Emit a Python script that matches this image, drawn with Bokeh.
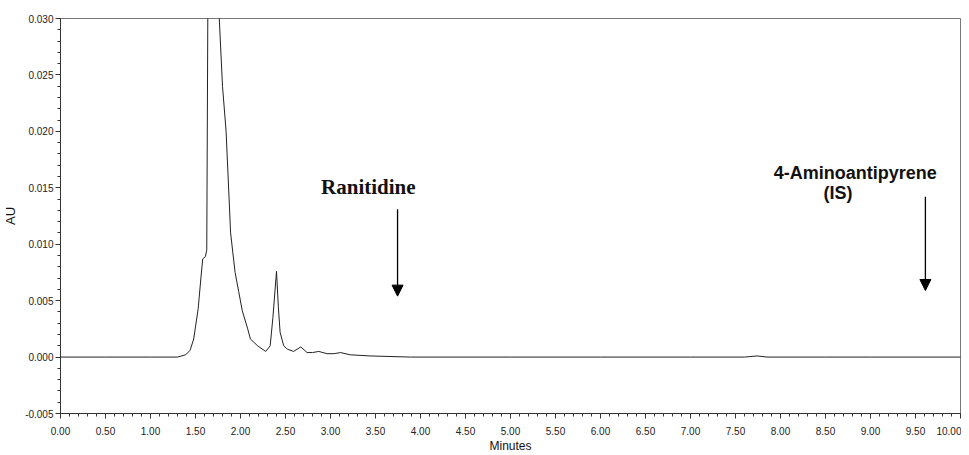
from bokeh.plotting import figure
from bokeh.models import (FixedTicker, Range1d, Arrow, NormalHead, Label,
                          CustomJSTickFormatter, NumeralTickFormatter)
from bokeh.embed import file_html
from bokeh.resources import INLINE

# ---- data ----
minutes = [0.0, 0.5, 1.0, 1.30, 1.39, 1.44, 1.48, 1.53, 1.56, 1.58, 1.61, 1.625,
           1.64, 1.70, 1.74, 1.80, 1.84, 1.89, 1.94, 1.98, 2.02, 2.08, 2.11,
           2.19, 2.28, 2.33, 2.36, 2.40, 2.42, 2.44, 2.48, 2.52, 2.59, 2.67,
           2.74, 2.80, 2.87, 2.96, 3.04, 3.11, 3.22, 3.44, 3.89, 5.0, 6.0,
           7.0, 7.6, 7.74, 7.85, 8.5, 9.0, 10.0]
au = [0.0, 0.0, 0.0, 0.0, 0.0002, 0.0006, 0.0016, 0.0043, 0.0070, 0.0087,
      0.0089, 0.0095, 0.036, 0.042, 0.034, 0.024, 0.020, 0.011, 0.0075,
      0.0058, 0.0041, 0.0025, 0.0016, 0.0010, 0.0005, 0.0010, 0.0035,
      0.0076, 0.0045, 0.0022, 0.0010, 0.0007, 0.0005, 0.0009, 0.0004,
      0.0004, 0.0005, 0.0003, 0.0003, 0.0004, 0.0002, 0.0001, 0.0, 0.0,
      0.0, 0.0, 0.0, 0.0001, 0.0, 0.0, 0.0, 0.0]

x_major = [0.0, 0.5, 1.0, 1.5, 2.0, 2.5, 3.0, 3.5, 4.0, 4.5, 5.0,
           5.5, 6.0, 6.5, 7.0, 7.5, 8.0, 8.5, 9.0, 9.5, 10.0]
y_major = [-0.005, 0.0, 0.005, 0.010, 0.015, 0.020, 0.025, 0.030]

# annotations: label text, label position, arrow start/end (data units)
annot_text = ["Ranitidine", "4-Aminoantipyrene", "(IS)"]
annot_x = [3.42, 8.83, 8.64]
annot_y = [0.0151, 0.0163, 0.0145]
arrow_x = [3.745, 9.61]
arrow_y_start = [0.0131, 0.0142]
arrow_y_end = [0.0054, 0.0059]

sans = "Liberation Sans"

p = figure(width=961, height=455, output_backend="svg", toolbar_location=None,
           x_range=Range1d(0, 10), y_range=Range1d(-0.005, 0.030),
           min_border_left=52, min_border_right=1, min_border_top=18,
           min_border_bottom=42)
p.background_fill_color = "white"
p.border_fill_color = "white"
p.outline_line_color = "#777777"
p.outline_line_width = 1
p.xgrid.visible = False
p.ygrid.visible = False

p.line(minutes, au, line_color="#222222", line_width=1)

# axes
p.xaxis.ticker = FixedTicker(ticks=x_major,
                             minor_ticks=[i / 10 for i in range(0, 101)])
p.yaxis.ticker = FixedTicker(ticks=y_major,
                             minor_ticks=[i / 1000 for i in range(-5, 31)])
p.xaxis.formatter = NumeralTickFormatter(format="0.00")
p.yaxis.formatter = CustomJSTickFormatter(code="return tick.toFixed(3);")
for ax in (p.xaxis[0], p.yaxis[0]):
    ax.major_tick_out = 5
    ax.major_tick_in = 0
    ax.minor_tick_out = 3
    ax.minor_tick_in = 0
    ax.axis_line_color = "#333333"
    ax.major_tick_line_color = "#333333"
    ax.minor_tick_line_color = "#333333"
    ax.major_label_text_font = sans
    ax.major_label_text_font_size = "10px"
    ax.major_label_text_color = "#222222"
    ax.axis_label_text_font = sans
    ax.axis_label_text_font_style = "normal"
    ax.axis_label_text_color = "#111111"
p.xaxis.major_label_standoff = 8
p.yaxis.major_label_standoff = 2
p.xaxis.axis_label = "Minutes"
p.xaxis.axis_label_text_font_size = "12px"
p.xaxis.axis_label_standoff = 1
p.yaxis.axis_label = "AU"
p.yaxis.axis_label_text_font_size = "13px"
p.yaxis.axis_label_standoff = 4

# annotations
fonts = ["Liberation Serif", "Liberation Sans", "Liberation Sans"]
sizes = ["21px", "18px", "18px"]
for t, x, y, f, s in zip(annot_text, annot_x, annot_y, fonts, sizes):
    p.add_layout(Label(x=x, y=y, text=t, text_font=f, text_font_size=s,
                       text_font_style="bold", text_align="center",
                       text_baseline="middle", text_color="#111111"))
for x, y0, y1 in zip(arrow_x, arrow_y_start, arrow_y_end):
    p.add_layout(Arrow(end=NormalHead(size=11, fill_color="black",
                                      line_color="black"),
                       x_start=x, y_start=y0, x_end=x, y_end=y1,
                       line_color="black", line_width=1.3))

open("out.html", "w").write(file_html(p, INLINE))
